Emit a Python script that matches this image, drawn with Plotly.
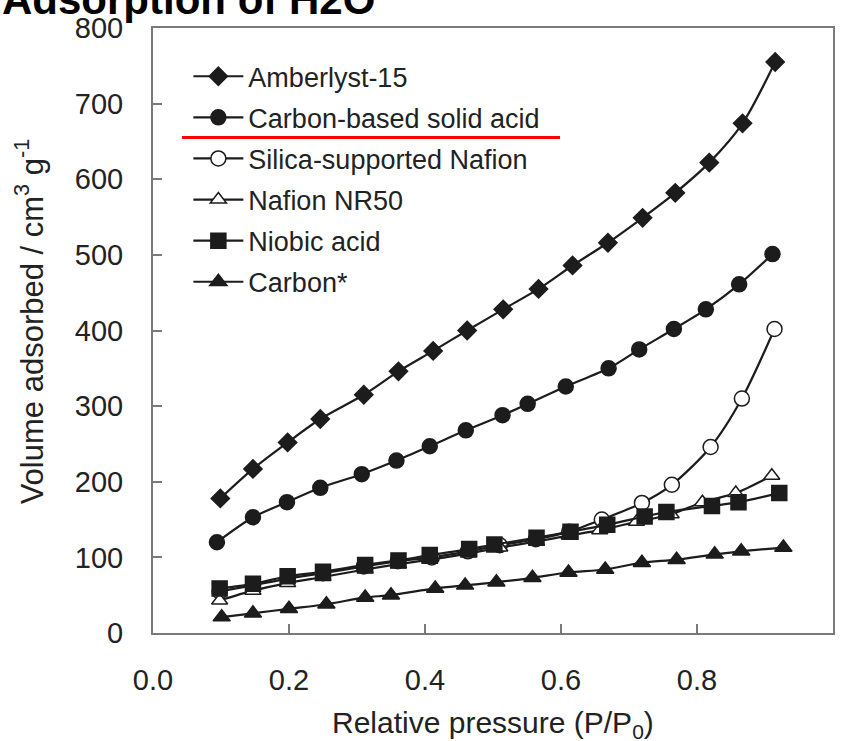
import plotly.graph_objects as go

# Water vapour adsorption isotherms (relative pressure vs. adsorbed volume)
amberlyst_x = [0.099, 0.147, 0.198, 0.246, 0.310, 0.361, 0.412, 0.462, 0.515, 0.567, 0.617, 0.669, 0.720, 0.768, 0.818, 0.867, 0.915]
amberlyst_y = [178, 217, 252, 283, 315, 346, 373, 400, 428, 455, 486, 516, 549, 582, 622, 674, 755]

carbon_acid_x = [0.094, 0.147, 0.197, 0.246, 0.307, 0.358, 0.407, 0.460, 0.514, 0.551, 0.607, 0.670, 0.715, 0.766, 0.813, 0.862, 0.911]
carbon_acid_y = [120, 153, 173, 192, 210, 228, 247, 268, 288, 303, 326, 350, 375, 402, 428, 461, 501]

silica_x = [0.098, 0.147, 0.198, 0.250, 0.310, 0.360, 0.410, 0.463, 0.510, 0.563, 0.612, 0.660, 0.719, 0.763, 0.820, 0.866, 0.914]
silica_y = [55, 63, 72, 79, 88, 95, 100, 108, 116, 124, 134, 150, 172, 196, 246, 310, 402]

nr50_x = [0.098, 0.147, 0.198, 0.250, 0.312, 0.361, 0.407, 0.464, 0.510, 0.564, 0.612, 0.657, 0.711, 0.762, 0.808, 0.857, 0.910]
nr50_y = [43, 56, 66, 74, 84, 91, 97, 105, 113, 121, 129, 136, 147, 157, 173, 185, 208]

niobic_x = [0.098, 0.147, 0.198, 0.250, 0.312, 0.361, 0.407, 0.465, 0.502, 0.564, 0.614, 0.668, 0.723, 0.755, 0.822, 0.861, 0.921]
niobic_y = [59, 65, 75, 81, 90, 96, 103, 111, 117, 126, 134, 143, 154, 160, 168, 173, 185]

carbon_x = [0.101, 0.147, 0.200, 0.255, 0.312, 0.350, 0.415, 0.459, 0.505, 0.558, 0.611, 0.665, 0.719, 0.770, 0.826, 0.865, 0.927]
carbon_y = [21, 26, 32, 38, 47, 50, 59, 63, 67, 73, 80, 84, 93, 97, 104, 108, 113]

x_ticks = [0.0, 0.2, 0.4, 0.6, 0.8, 1.0]
y_ticks = [0, 100, 200, 300, 400, 500, 600, 700, 800]

INK = "#1c1c1c"
FRAME = "#7a7a7a"
FONT = "Liberation Sans, Arial, sans-serif"

series = [
    ("Amberlyst-15", amberlyst_x, amberlyst_y, "diamond", 14, INK),
    ("Carbon-based solid acid", carbon_acid_x, carbon_acid_y, "circle", 15, INK),
    ("Silica-supported Nafion", silica_x, silica_y, "circle", 15, "white"),
    ("Nafion NR50", nr50_x, nr50_y, "triangle-up", 14, "white"),
    ("Niobic acid", niobic_x, niobic_y, "square", 15, INK),
    ("Carbon*", carbon_x, carbon_y, "triangle-up", 15, INK),
]

fig = go.Figure()
for i, (name, xs, ys, sym, size, fill) in enumerate(series):
    fig.add_trace(go.Scatter(
        x=xs, y=ys, name=name, mode="lines+markers",
        legendgroup=f"g{i}",
        line=dict(color=INK, width=2.2, shape="spline", smoothing=0.8),
        marker=dict(symbol=sym, size=size, color=fill,
                    line=dict(color=INK, width=1.5)),
    ))

fig.update_layout(
    width=852, height=741, autosize=False,
    margin=dict(l=153, r=19, t=25, b=108),
    paper_bgcolor="white", plot_bgcolor="white",
    font=dict(family=FONT, color="#222"),
    showlegend=True,
    legend=dict(
        x=0.052, y=0.96, xanchor="left", yanchor="top",
        bgcolor="rgba(0,0,0,0)", borderwidth=0,
        font=dict(size=27, family=FONT, color="#222"),
        tracegroupgap=3, itemwidth=50,
    ),
    xaxis=dict(
        range=[0, 1.0], tickvals=x_ticks,
        ticktext=[f"{v:.1f}" for v in x_ticks],
        ticks="inside", ticklen=9, tickwidth=1.5, tickcolor=FRAME,
        showline=True, linecolor=FRAME, linewidth=2, mirror=True,
        showgrid=False, zeroline=False,
        tickfont=dict(size=29, family=FONT, color="#222"),
        ticklabelstandoff=20,
    ),
    yaxis=dict(
        range=[0, 800], tickvals=y_ticks,
        ticks="inside", ticklen=9, tickwidth=1.5, tickcolor=FRAME,
        showline=True, linecolor=FRAME, linewidth=2, mirror=True,
        showgrid=False, zeroline=False,
        tickfont=dict(size=29, family=FONT, color="#222"),
        ticklabelstandoff=22,
    ),
)

# Axis titles
fig.add_annotation(
    text="Relative pressure (P/P<sub>0</sub>)", xref="paper", yref="paper",
    x=0.5, y=-0.152, xanchor="center", yanchor="middle", showarrow=False,
    font=dict(size=30, family=FONT, color="#222"),
)
fig.add_annotation(
    text="Volume adsorbed / cm<sup>3</sup> g<sup>-1</sup>", xref="paper", yref="paper",
    x=-0.181, y=0.515, xanchor="center", yanchor="middle", textangle=-90,
    showarrow=False, font=dict(size=31, family=FONT, color="#222"),
)

# Chart heading along the top edge
fig.add_annotation(
    text="<b>Adsorption of H2O</b>", xref="paper", yref="paper",
    x=-0.225, y=1.005, xanchor="left", yanchor="bottom", showarrow=False,
    font=dict(size=42, family=FONT, color="black"),
)

# Red underline highlighting the carbon-based solid acid entry
fig.add_shape(
    type="line", xref="paper", yref="paper",
    x0=0.0426, x1=0.5985, y0=0.819, y1=0.819,
    line=dict(color="red", width=3),
)

fig.write_html("out.html")
